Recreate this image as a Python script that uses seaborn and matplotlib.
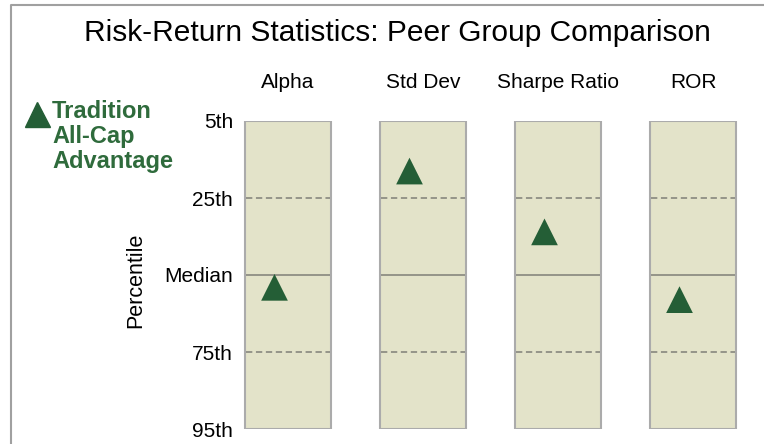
import numpy as np
import pandas as pd
import matplotlib
matplotlib.use('Agg')
import matplotlib.pyplot as plt
from matplotlib.lines import Line2D
import seaborn as sns

# Dados do gráfico
metrics = ['Alpha', 'Std Dev', 'Sharpe Ratio', 'ROR']
percentile_ticks = [5, 25, 50, 75, 95]
tick_labels = ['5th', '25th', 'Median', '75th', '95th']
fund_percentile = [54, 18, 36, 58]   # posição do fundo em cada estatística
legend_label = 'Tradition\nAll-Cap\nAdvantage'

# Cores
box_face = '#e3e3c9'
box_edge = '#ababab'
line_col = '#8e8e84'
green = '#245e36'
text_green = '#2f6b3c'

sns.set_theme(style='white')
plt.rcParams['font.family'] = ['Liberation Sans', 'DejaVu Sans']
plt.rcParams['text.color'] = 'black'
plt.rcParams['xtick.color'] = 'black'
plt.rcParams['ytick.color'] = 'black'

# escala ordinal: cada rótulo do eixo fica igualmente espaçado
tick_pos = np.arange(len(percentile_ticks))
fund_pos = np.interp(fund_percentile, percentile_ticks, tick_pos)
idx = np.arange(len(metrics))

df = pd.DataFrame({'metric': metrics, 'span': tick_pos[-1]})

fig = plt.figure(figsize=(7.64, 4.44), dpi=100)
ax = fig.add_axes([220.5 / 764, 15 / 444, 540 / 764, 308 / 444])

sns.barplot(data=df, x='metric', y='span', order=metrics, width=0.64,
            color=box_face, saturation=1, edgecolor=box_edge, linewidth=1.5, ax=ax)

# linhas dos quartis e mediana dentro de cada caixa
for i in idx:
    for p in tick_pos[1:-1]:
        ls = '-' if p == 2 else (0, (3.5, 2))
        ax.hlines(p, i - 0.31, i + 0.31, colors=line_col, linestyles=ls, linewidth=1.3, zorder=3)

sns.scatterplot(x=idx - 0.1, y=fund_pos, marker='^', s=370, color=green,
                edgecolor='none', zorder=5, ax=ax, legend=False)

ax.set_xlim(-0.5, len(metrics) - 0.5)
ax.set_ylim(tick_pos[-1], tick_pos[0])
ax.set_yticks(tick_pos)
ax.set_yticklabels(tick_labels, fontsize=15)
ax.set_xticks(idx)
ax.set_xticklabels(metrics, fontsize=15)
ax.xaxis.tick_top()
ax.tick_params(axis='x', length=0, pad=21)
ax.tick_params(axis='y', length=0, pad=-9)
ax.set_xlabel('')
ax.set_ylabel('')
for s in ax.spines.values():
    s.set_visible(False)

fig.text(397 / 764, 1 - 33 / 444, 'Risk-Return Statistics: Peer Group Comparison',
         ha='center', va='center', fontsize=21.5)
fig.text(136 / 764, 1 - 280 / 444, 'Percentile', rotation=90,
         ha='center', va='center', fontsize=15.5)

# legenda
fig.add_artist(Line2D([37 / 764], [1 - 114 / 444], marker='^', markersize=18,
                      color=green, linestyle='none', transform=fig.transFigure))
fig.text(52 / 764, 1 - 100 / 444, legend_label, ha='left', va='top',
         fontsize=17, fontweight='bold', color=text_green, linespacing=1.1)

# moldura
fig.add_artist(Line2D([11 / 764, 11 / 764, 1], [0, 1 - 5 / 444, 1 - 5 / 444],
                      color='#a0a0a0', linewidth=1.5, transform=fig.transFigure))

fig.savefig('out.png', dpi=100)
